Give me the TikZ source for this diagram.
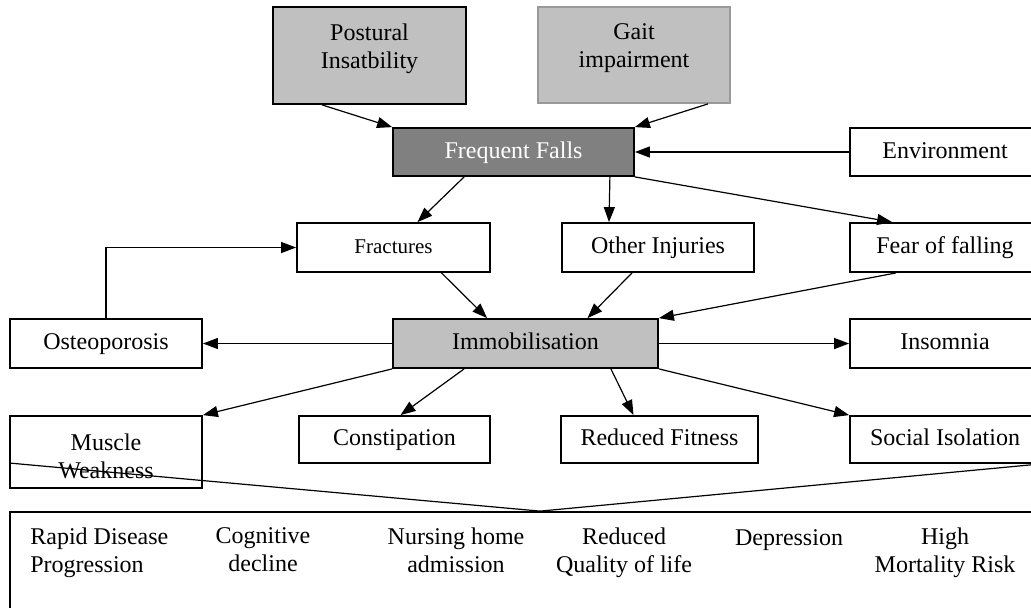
\documentclass[tikz,border=0pt]{standalone}
\usepackage{fontspec}
\setmainfont{Liberation Serif}
\usetikzlibrary{arrows.meta}
\definecolor{boxgray}{HTML}{C0C0C0}
\definecolor{fallsgray}{HTML}{808080}
\definecolor{gaitline}{HTML}{999999}
\newcommand{\lnstrut}{\vrule width 0pt height 9pt depth 3pt}
\begin{document}
\begin{tikzpicture}[x=0.5pt, y=-0.5pt,
	every node/.style={font=\fontsize{12pt}{14pt}\selectfont, execute at begin node=\lnstrut, execute at end node=\lnstrut},
	box/.style = {draw, rectangle, line width=0.9pt, align=center, inner sep=0pt},
	item/.style = {align=center, inner sep=0pt},
	arr/.style = {line width=0.6pt, -{Triangle[length=7.5pt, width=5.5pt]}}]
			\useasboundingbox (0,0) rectangle (1031,607);
			\clip (0,0) rectangle (1031,607);
			\node[box, fill=boxgray] (post) at (369.5,55.5) [minimum width=96.5pt, minimum height=48.5pt] {Postural\\Insatbility\rule[-9.5pt]{0pt}{9.5pt}};
			\node[box, fill=boxgray, draw=gaitline] (gait) at (634,55) [minimum width=96pt, minimum height=48pt] {Gait\\impairment\rule[-9.5pt]{0pt}{9.5pt}};
			\node[box, fill=fallsgray, text=white] (falls) at (513.5,152) [minimum width=120.5pt, minimum height=24pt] {Frequent Falls};
			\node[box] (env) at (945,152) [minimum width=95pt, minimum height=24pt] {Environment};
			\node[box] (frac) at (393.5,247.5) [minimum width=96.5pt, minimum height=24.5pt] [font=\fontsize{10.5pt}{12pt}\selectfont] {Fractures};
			\node[box] (other) at (658,247.5) [minimum width=96pt, minimum height=24.5pt] {Other Injuries};
			\node[box] (fear) at (945,247.5) [minimum width=95pt, minimum height=24.5pt] {Fear of falling};
			\node[box] (osteo) at (106,343.5) [minimum width=96pt, minimum height=24.5pt] {Osteoporosis};
			\node[box, fill=boxgray] (immob) at (525.5,343.5) [minimum width=132.5pt, minimum height=24.5pt] {Immobilisation};
			\node[box] (insom) at (945,343.5) [minimum width=95pt, minimum height=24.5pt] {Insomnia};
			\node[box] (muscle) at (106,452) [minimum width=96pt, minimum height=36pt] {\rule{0pt}{15pt}Muscle\\Weakness};
			\node[box] (const) at (394.5,439.5) [minimum width=95.5pt, minimum height=23.5pt] {Constipation};
			\node[box] (fit) at (659.5,439.5) [minimum width=98.5pt, minimum height=23.5pt] {Reduced Fitness};
			\node[box] (social) at (945,439.5) [minimum width=95pt, minimum height=23.5pt] {Social Isolation};
			\node[box] (result) at (525,566) [minimum width=515pt, minimum height=54pt] {};
			\node[item] (rapid) at (30,553) [anchor=west, align=left] {Rapid Disease\\Progression};
			\node[item] (cogn) at (263,553) {Cognitive\\decline};
			\node[item] (nurs) at (456,553) {Nursing home\\admission};
			\node[item] (qual) at (624,553) {Reduced\\Quality of life};
			\node[item] (depr) at (789,539) {Depression};
			\node[item] (mort) at (945,553) {High\\Mortality Risk};
			\coordinate (apex) at ([xshift=7.5pt]result.north);
			\path[arr]
			([xshift=25pt]post.south west) edge (falls.north west)
			([xshift=-11.5pt]gait.south east) edge (falls.north east)
			(env.west) edge (falls.east)
			([xshift=36pt]falls.south west) edge ([xshift=12pt]frac.north)
			([xshift=-12.5pt]falls.south east) edge ([xshift=-24.5pt]other.north)
			(falls.south east) edge ([xshift=21.5pt]fear.north west)
			([xshift=24pt]frac.south) edge ([xshift=47.5pt]immob.north west)
			([xshift=-13pt]other.south) edge ([xshift=31pt]immob.north)
			([xshift=23.5pt]fear.south west) edge (immob.north east)
			(immob.west) edge (osteo.east)
			(immob.east) edge (insom.west)
			(immob.south west) edge (muscle.north east)
			([xshift=36pt]immob.south west) edge ([xshift=3pt]const.north)
			([xshift=-24pt]immob.south east) edge ([xshift=-13pt]fit.north)
			(immob.south east) edge (social.north west);
			\draw[arr] (osteo.north) |- (frac.west);
			\draw[line width=0.6pt] ([yshift=-5.5pt]muscle.west) -- (apex) -- (social.south east);
		\end{tikzpicture}
\end{document}
